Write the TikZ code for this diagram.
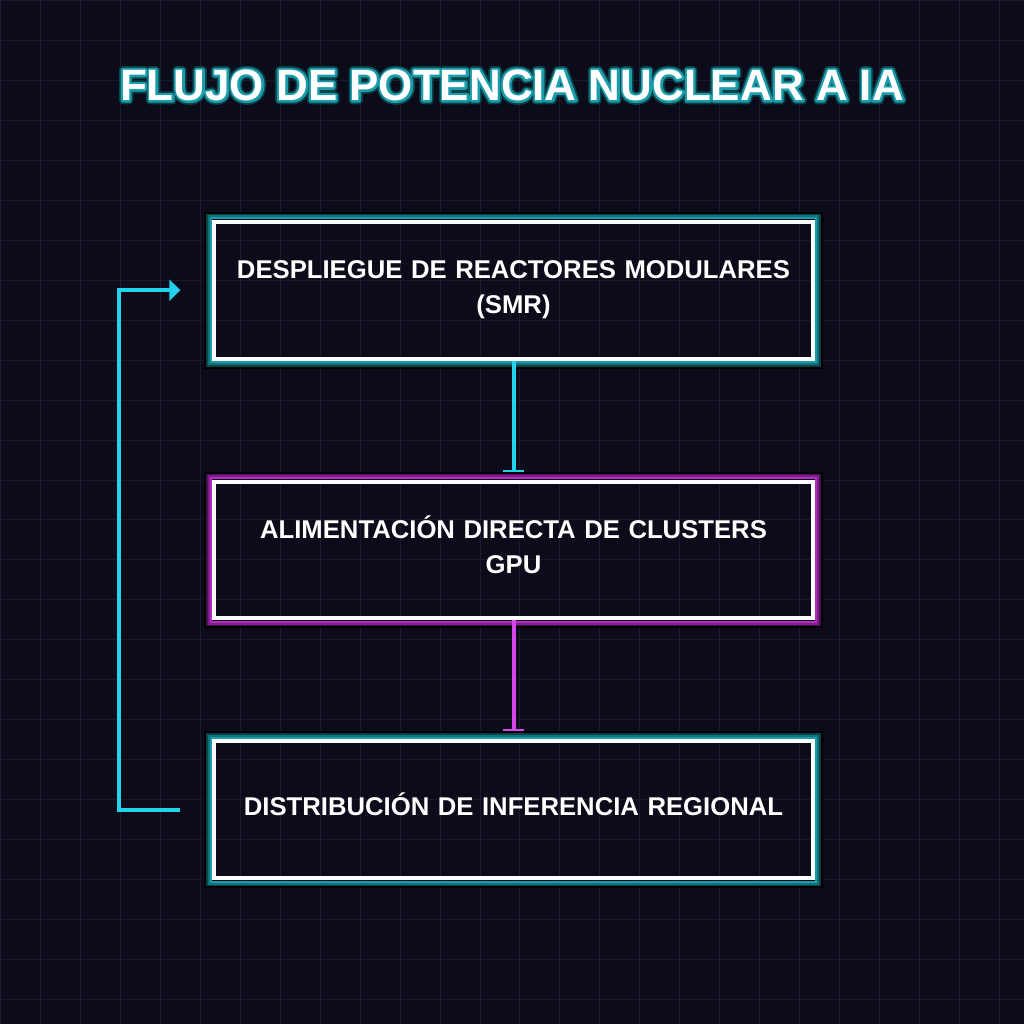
\documentclass[tikz,border=0pt]{standalone}
\usepackage{fontspec}
\setmainfont{Liberation Sans}
\usetikzlibrary{arrows.meta}

\definecolor{bgdark}{HTML}{0B0B1A}
\definecolor{gridcol}{HTML}{1A1930}
\definecolor{neoncyan}{HTML}{22D3EE}
\definecolor{tealA}{HTML}{1A9CAA}
\definecolor{tealB}{HTML}{12727C}
\definecolor{tealC}{HTML}{0B4249}
\definecolor{neonpink}{HTML}{D946EF}
\definecolor{pinkA}{HTML}{B42CC4}
\definecolor{pinkB}{HTML}{7E1E8C}
\definecolor{pinkC}{HTML}{44124E}

% outlined text (stroke only) for the title glow
\newcommand{\strokedtext}[2]{\special{pdf:literal direct 1 Tr #1 w 1 j}#2\special{pdf:literal direct 0 Tr 1 w 0 j}}

\begin{document}
\begin{tikzpicture}[x=1pt, y=-1pt]
    % Styles
    \tikzstyle{grid line}=[gridcol, line width=1pt]
    \tikzstyle{title text}=[font=\fontsize{44}{50}\selectfont\bfseries, anchor=base, inner sep=0pt]
    \tikzstyle{flow box}=[draw=white, line width=4pt, minimum width=599pt, minimum height=137pt,
        text=white, text width=580pt, align=center, text height=18.4pt,
        font=\fontsize{25.7}{35}\selectfont\bfseries]
    \tikzstyle{two lines}=[text depth=41pt]
    \tikzstyle{one line}=[text depth=6pt]
    \tikzstyle{down link}=[line width=4pt, -{Bar[width=21pt, line width=2pt]}, shorten >=8pt]
    \tikzstyle{back link}=[neoncyan, line width=4pt, -{Triangle[length=11pt, width=21pt]}]

    % --- Background and grid ---
    \fill[bgdark] (0,0) rectangle (1024,1024);
    \foreach \g in {0,40,...,1000} {
        \draw[grid line] (\g,0) -- (\g,1024);
        \draw[grid line] (0,\g) -- (1024,\g);
    }

    % --- Title with glow ---
    \node[title text, text=tealC] (title-glow-out) at (512,100) {\strokedtext{8}{FLUJO DE POTENCIA NUCLEAR A IA}};
    \node[title text, text=tealA] (title-glow-in) at (512,100) {\strokedtext{4.5}{FLUJO DE POTENCIA NUCLEAR A IA}};
    \node[title text, text=white] (title) at (512,100) {FLUJO DE POTENCIA NUCLEAR A IA};

    % --- Flow boxes ---
    \node[flow box, two lines] (smr) at (513.5,290) {DESPLIEGUE DE REACTORES MODULARES\\(SMR)};
    \node[flow box, two lines] (gpu) at (513.5,550) {ALIMENTACIÓN DIRECTA DE CLUSTERS\\GPU};
    \node[flow box, one line] (dist) at (513.5,810) {DISTRIBUCIÓN DE INFERENCIA REGIONAL};

    % Glow frames round the boxes
    \foreach \n/\ca/\cb/\cc in {smr/tealA/tealB/tealC, gpu/pinkA/pinkB/pinkC, dist/tealA/tealB/tealC} {
        \draw[black, line width=2pt] ([shift={(-7,-7)}]\n.north west) rectangle ([shift={(7,7)}]\n.south east);
        \draw[\cc, line width=2pt] ([shift={(-5,-5)}]\n.north west) rectangle ([shift={(5,5)}]\n.south east);
        \draw[\cb, line width=2pt] ([shift={(-3.5,-3.5)}]\n.north west) rectangle ([shift={(3.5,3.5)}]\n.south east);
        \draw[\ca, line width=2pt] ([shift={(-1.5,-1.5)}]\n.north west) rectangle ([shift={(1.5,1.5)}]\n.south east);
    }

    % --- Connectors ---
    \draw[down link, neoncyan] (smr.south) -- (gpu.north);
    \draw[down link, neonpink] (gpu.south) -- (dist.north);

    % Feedback loop back to the reactors
    \draw[back link] ([xshift=-32pt]dist.west) -- ++(-61,0) |- ([xshift=-32pt]smr.west);

\end{tikzpicture}
\end{document}
